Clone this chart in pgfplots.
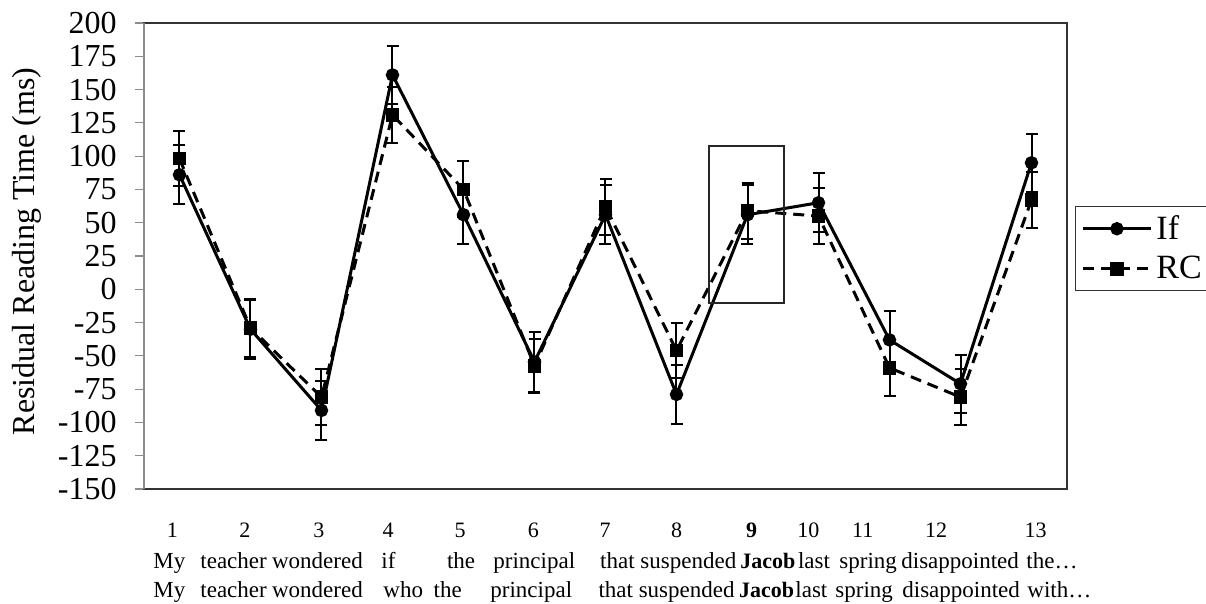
\documentclass[border=0pt]{standalone}
\usepackage{pgfplots}
\pgfplotsset{compat=1.18}
\usepackage{fontspec}
\setmainfont{Liberation Serif}

% x, y, error
\pgfplotstableread{
x y e
1 86 22
2 -30 22
3 -91 22
4 161 22
5 56 22
6 -54.5 22.5
7 56 22
8 -79 22
9 56 22
10 65 22
11 -38 22
12 -71 22
13 95 22
}\ifdata
\pgfplotstableread{
x y e
1 98 20.6
2 -29 21.5
3 -81 21
4 131 21
5 75 21
6 -57.5 20.5
7 62 21
8 -46 21
9 59 21
10 55 21
11 -59 21
12 -81 21
13 67 21
}\rcdata

\begin{document}
\begin{tikzpicture}
\begin{axis}[
  scale only axis,
  width=461.5pt, height=233pt,
  at={(0,0)}, anchor=south west,
  xmin=0.5, xmax=13.5,
  ymin=-150, ymax=200,
  ytick={-150,-125,...,200},
  xtick=\empty,
  ytick pos=left,
  tick align=outside,
  major tick length=4.5pt,
  every tick/.style={draw=gray!90, line width=0.6pt},
  axis line style={draw=black!80, line width=0.75pt},
  /pgf/number format/assume math mode=true,
  yticklabel style={font=\fontsize{16}{19}\selectfont, inner sep=0pt, xshift=-9pt},
  ylabel={Residual Reading Time (ms)},
  ylabel style={font=\fontsize{16}{19}\selectfont, at={(axis description cs:-0.119,0.51)}, anchor=base},
  clip=false,
  legend style={at={(axis description cs:1.0085,0.608)}, anchor=north west,
    draw=black!80, line width=0.6pt, font=\fontsize{17}{19}\selectfont,
    inner xsep=3pt, inner ysep=2.5pt, row sep=3pt, cells={anchor=west}},
  legend image code/.code={\draw[mark repeat=2, mark phase=2] plot coordinates {(0pt,0pt) (17pt,0pt) (34pt,0pt)};},
]
\addplot[black, line width=1.5pt, mark=*, mark size=2.6pt,
  error bars/.cd, y dir=both, y explicit,
  error bar style={solid, line width=1pt, black},
  error mark options={rotate=90, mark size=3pt, line width=1pt, black}]
  table[x=x, y=y, y error=e] {\ifdata};
\addlegendentry{If}
\addplot[black, line width=1.5pt, dash pattern=on 5.5pt off 3.5pt, mark=square*, mark size=2.6pt, mark options={solid},
  error bars/.cd, y dir=both, y explicit,
  error bar style={solid, line width=1pt, black},
  error mark options={rotate=90, mark size=3pt, line width=1pt, black, solid}]
  table[x=x, y=y, y error=e] {\rcdata};
\addlegendentry{RC}
\draw[black!85, line width=0.9pt] (axis cs:8.455,107.7) rectangle (axis cs:9.511,-10.1);
\draw[gray!90, line width=0.75pt] (rel axis cs:0,0) -- (rel axis cs:0,1);
\end{axis}

% position numbers
\begin{scope}[every node/.style={font=\fontsize{11}{13}\selectfont, anchor=base, inner sep=0pt}]
\node at (14.15pt,-24.5pt) {1};
\node at (50.5pt,-24.5pt) {2};
\node at (87.5pt,-24.5pt) {3};
\node at (122pt,-24.5pt) {4};
\node at (158pt,-24.5pt) {5};
\node at (194.65pt,-24.5pt) {6};
\node at (230.5pt,-24.5pt) {7};
\node at (266.35pt,-24.5pt) {8};
\node at (303.85pt,-24.5pt) {\textbf{9}};
\node at (332.15pt,-24.5pt) {10};
\node at (359.35pt,-24.5pt) {11};
\node at (396pt,-24.5pt) {12};
\node at (445.85pt,-24.5pt) {13};
\end{scope}
% sentence rows
\begin{scope}[every node/.style={font=\fontsize{11.5}{14}\selectfont, anchor=base west, inner sep=0pt}]
\node at (4.5pt,-40pt) {My};
\node at (28pt,-40pt) {teacher};
\node at (63.85pt,-40pt) {wondered};
\node at (118.5pt,-40pt) {if};
\node at (151.35pt,-40pt) {the};
\node at (174.5pt,-40pt) {principal};
\node[anchor=base east] at (296.35pt,-40pt) {that suspended};
\node at (298pt,-40pt) {\fontsize{11}{14}\selectfont\textbf{Jacob}};
\node at (326.8pt,-40pt) {last};
\node at (347.5pt,-40pt) {spring};
\node at (378.5pt,-40pt) {disappointed};
\node at (441pt,-40pt) {the…};
\node at (4.5pt,-54.35pt) {My};
\node at (28pt,-54.35pt) {teacher};
\node at (63.85pt,-54.35pt) {wondered};
\node at (119.5pt,-54.35pt) {who};
\node at (144.65pt,-54.35pt) {the};
\node at (173pt,-54.35pt) {principal};
\node[anchor=base east] at (295.5pt,-54.35pt) {that suspended};
\node at (297.4pt,-54.35pt) {\fontsize{11}{14}\selectfont\textbf{Jacob}};
\node at (325.5pt,-54.35pt) {last};
\node at (345.5pt,-54.35pt) {spring};
\node at (379pt,-54.35pt) {disappointed};
\node at (441.5pt,-54.35pt) {with…};
\end{scope}
\pgfresetboundingbox
\path[use as bounding box] (-72pt,-57.5pt) rectangle (531pt,244.5pt);
\end{tikzpicture}
\end{document}
